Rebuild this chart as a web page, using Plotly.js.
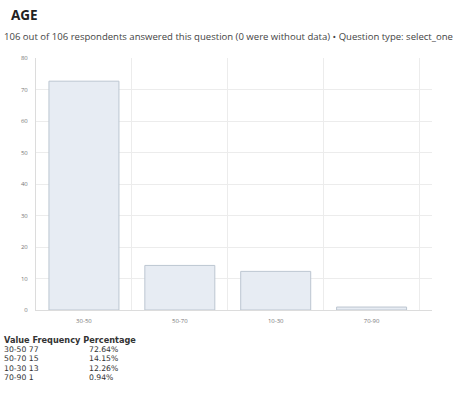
<!DOCTYPE html>
<html>
<head>
<meta charset="utf-8">
<script src="https://cdn.plot.ly/plotly-3.0.1.min.js"></script>
<style>
html,body{margin:0;padding:0;background:#fff;}
#chart{width:456px;height:394px;}
</style>
</head>
<body>
<div id="chart"></div>
<script>
const categories = ["30-50", "50-70", "10-30", "70-90"];
const frequencies = [77, 15, 13, 1];
const percentages = [72.64, 14.15, 12.26, 0.94];
const yTicks = [0, 10, 20, 30, 40, 50, 60, 70, 80];
const titleText = "AGE";
const subtitleText = "106 out of 106 respondents answered this question (0 were without data) • Question type: select_one";
const tableHeader = "Value Frequency Percentage";

const FONT = "Open Sans, sans-serif";
const TFONT = "DejaVu Sans, sans-serif";
const PH = 252, PW = 396;
const px2y = p => (310 - p) / PH;
const px2x = p => (p - 36) / PW;

const annotations = [
  {text: "<b>" + titleText + "</b>", xref: "paper", yref: "paper", x: px2x(9), y: px2y(15), xanchor: "left", yanchor: "middle", showarrow: false, font: {family: FONT, size: 13.5, color: "#222"}},
  {text: subtitleText, xref: "paper", yref: "paper", x: px2x(2), y: px2y(36), xanchor: "left", yanchor: "middle", showarrow: false, font: {family: FONT, size: 9.55, color: "#444"}},
  {text: "<b>" + tableHeader + "</b>", xref: "paper", yref: "paper", x: px2x(2), y: px2y(340), xanchor: "left", yanchor: "middle", showarrow: false, font: {family: TFONT, size: 8.2, color: "#333"}}
];
categories.forEach((c, i) => {
  const yy = px2y(349.6 + i * 9.2);
  annotations.push({text: c + " " + frequencies[i], xref: "paper", yref: "paper", x: px2x(2), y: yy, xanchor: "left", yanchor: "middle", showarrow: false, font: {family: TFONT, size: 7.7, color: "#333"}});
  annotations.push({text: percentages[i].toFixed(2) + "%", xref: "paper", yref: "paper", x: px2x(87), y: yy, xanchor: "left", yanchor: "middle", showarrow: false, font: {family: TFONT, size: 7.7, color: "#333"}});
});

const trace = {
  type: "bar",
  x: categories,
  y: percentages,
  marker: {color: "#e7ecf3", line: {color: "#bcc6d1", width: 1}},
  hoverinfo: "none"
};

const layout = {
  width: 456, height: 394,
  margin: {l: 36, r: 24, t: 58, b: 84},
  paper_bgcolor: "#fff", plot_bgcolor: "#fff",
  showlegend: false,
  bargap: 0.27,
  font: {family: FONT, size: 6, color: "#777"},
  xaxis: {
    type: "category",
    range: [-0.5, 3.63],
    tickson: "boundaries",
    showgrid: true, gridcolor: "#ececec", gridwidth: 1,
    showline: true, linecolor: "#dcdcdc",
    ticks: "", tickfont: {size: 6, color: "#777"},
    zeroline: false,
    ticklabelstandoff: 5
  },
  yaxis: {
    range: [0, 80],
    tickvals: yTicks,
    showgrid: true, gridcolor: "#ececec",
    showline: true, linecolor: "#dcdcdc",
    ticks: "", tickfont: {size: 6, color: "#777"},
    zeroline: false,
    ticklabelstandoff: 6
  },
  annotations: annotations
};

Plotly.newPlot("chart", [trace], layout, {displayModeBar: false, staticPlot: true});
</script>
</body>
</html>
